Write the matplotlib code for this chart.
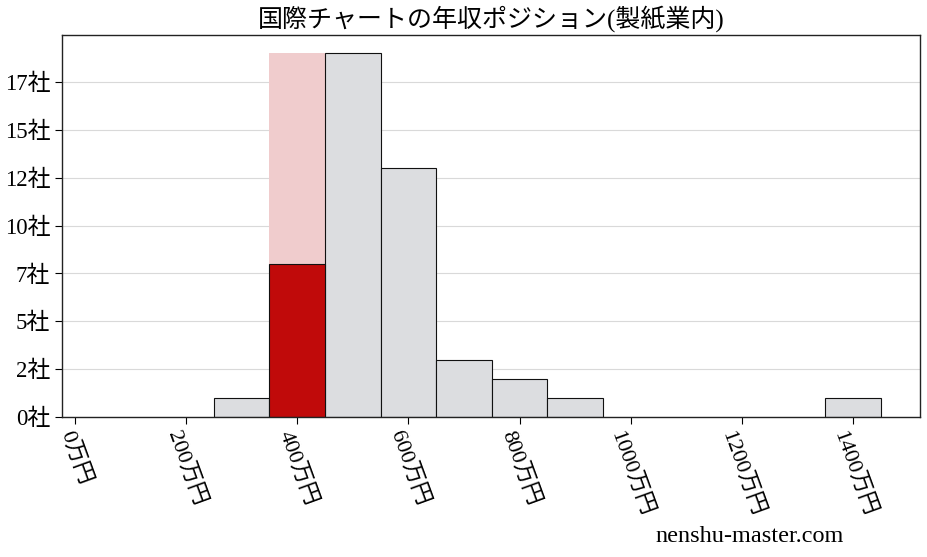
import matplotlib
matplotlib.use("Agg")
import matplotlib.pyplot as plt
from matplotlib.ticker import FuncFormatter

# Data (万円 bins of width 100, left edges) and company counts
bin_left = [250, 350, 450, 550, 650, 750, 850, 1350]
counts = [1, 8, 19, 13, 3, 2, 1, 1]
highlight_left = 350
highlight_count = 8
bin_width = 100
x_ticks = [0, 200, 400, 600, 800, 1000, 1200, 1400]
y_ticks = [0, 2.5, 5, 7.5, 10, 12.5, 15, 17.5]
title = "国際チャートの年収ポジション(製紙業内)"
watermark = "nenshu-master.com"

fam = ["Liberation Serif", "Noto Sans CJK JP", "DejaVu Sans"]
plt.rcParams["font.family"] = fam

fig = plt.figure(figsize=(9.28, 5.57), dpi=100)
ax = fig.add_axes([0.0668, 0.2513, 0.9246, 0.6859])

ax.grid(axis="y", color="#d9d9d9", linewidth=0.8, zorder=0)
ax.set_axisbelow(True)

# pink background column for the highlighted bin
ax.bar(highlight_left, max(counts), width=bin_width, align="edge",
       color="#f0cccd", edgecolor="none", zorder=1)

others = [(l, c) for l, c in zip(bin_left, counts) if l != highlight_left]
ax.bar([l for l, _ in others], [c for _, c in others], width=bin_width,
       align="edge", color="#dcdde0", edgecolor="#111111", linewidth=0.8, zorder=2)
ax.bar(highlight_left, highlight_count, width=bin_width, align="edge",
       color="#c00a0a", edgecolor="#111111", linewidth=0.8, zorder=2)

ax.set_xlim(-23, 1520)
ax.set_ylim(0, max(counts) * 1.05)
ax.set_xticks(x_ticks)
ax.set_xticklabels([f"{v}万円" for v in x_ticks], rotation=-70, fontsize=16)
ax.set_yticks(y_ticks)
ax.yaxis.set_major_formatter(FuncFormatter(lambda v, p: f"{int(v)}社"))
ax.tick_params(axis="y", labelsize=16.5, length=5)
ax.tick_params(axis="x", length=5)
for s in ax.spines.values():
    s.set_color("#222222")
    s.set_linewidth(1.0)

ax.set_title(title, fontsize=18, pad=6)
fig.text(0.808, 0.036, watermark, fontsize=17.5, ha="center", va="center")

fig.savefig("out.png", dpi=100)
